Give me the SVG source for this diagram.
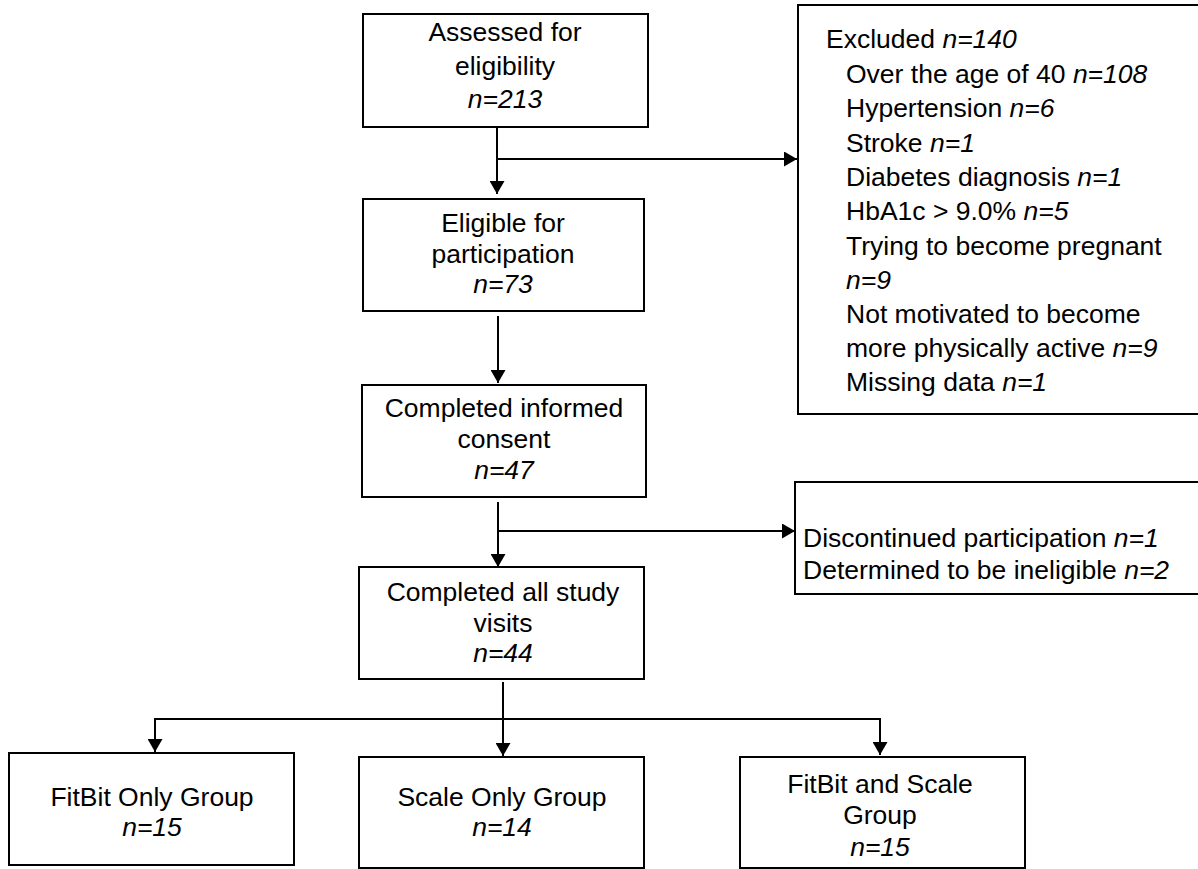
<svg xmlns="http://www.w3.org/2000/svg" width="1198" height="869" viewBox="0 0 1198 869">
<defs>
<style>
.box{fill:#fff;stroke:#000;stroke-width:2}
.t{font-family:"Liberation Sans",Arial,sans-serif;font-size:26.5px;fill:#000}
.c{text-anchor:middle}
.n{font-style:italic}
.ln{fill:none;stroke:#000;stroke-width:2}
</style>
<marker id="a" viewBox="0 0 13 15" refX="13" refY="7.5" markerWidth="13" markerHeight="15" markerUnits="userSpaceOnUse" orient="auto">
<path d="M0,0 L13,7.5 L0,15 Z" fill="#000"/>
</marker>
</defs>
<rect width="1198" height="869" fill="#fff"/>

<g id="connectors">
<path class="ln" d="M497,128 V194" marker-end="url(#a)"/>
<path class="ln" d="M497,159 H797" marker-end="url(#a)"/>
<path class="ln" d="M498,316 V383" marker-end="url(#a)"/>
<path class="ln" d="M498,502 V567" marker-end="url(#a)"/>
<path class="ln" d="M498,531 H795" marker-end="url(#a)"/>
<path class="ln" d="M503,682 V756" marker-end="url(#a)"/>
<path class="ln" d="M155,752 V719 H880 V755" marker-end="url(#a)"/>
<path class="ln" d="M155,719 V752" marker-end="url(#a)"/>
</g>

<g id="assessed">
<rect class="box" x="363" y="14" width="285" height="113"/>
<text class="t c" x="505" y="41">Assessed for</text>
<text class="t c" x="505" y="75">eligibility</text>
<text class="t c n" x="505" y="108">n=213</text>
</g>

<g id="excluded">
<rect class="box" x="798" y="5" width="410" height="409"/>
<text class="t" x="826" y="48">Excluded <tspan class="n">n=140</tspan></text>
<text class="t" x="846" y="83">Over the age of 40 <tspan class="n">n=108</tspan></text>
<text class="t" x="846" y="117">Hypertension <tspan class="n">n=6</tspan></text>
<text class="t" x="846" y="152">Stroke <tspan class="n">n=1</tspan></text>
<text class="t" x="846" y="186">Diabetes diagnosis <tspan class="n">n=1</tspan></text>
<text class="t" x="846" y="220">HbA1c &gt; 9.0% <tspan class="n">n=5</tspan></text>
<text class="t" x="846" y="255">Trying to become pregnant</text>
<text class="t n" x="846" y="289">n=9</text>
<text class="t" x="846" y="323">Not motivated to become</text>
<text class="t" x="846" y="357">more physically active <tspan class="n">n=9</tspan></text>
<text class="t" x="846" y="391">Missing data <tspan class="n">n=1</tspan></text>
</g>

<g id="eligible">
<rect class="box" x="363" y="199" width="281" height="112"/>
<text class="t c" x="503" y="232">Eligible for</text>
<text class="t c" x="503" y="263">participation</text>
<text class="t c n" x="503" y="293">n=73</text>
</g>

<g id="consent">
<rect class="box" x="362" y="385" width="284" height="112"/>
<text class="t c" x="504" y="417">Completed informed</text>
<text class="t c" x="504" y="448">consent</text>
<text class="t c n" x="504" y="479">n=47</text>
</g>

<g id="discontinued">
<rect class="box" x="795" y="482" width="410" height="112"/>
<text class="t" x="803" y="547">Discontinued participation <tspan class="n">n=1</tspan></text>
<text class="t" x="803" y="579">Determined to be ineligible <tspan class="n">n=2</tspan></text>
</g>

<g id="completed">
<rect class="box" x="359" y="567" width="285" height="112"/>
<text class="t c" x="503" y="601">Completed all study</text>
<text class="t c" x="503" y="632">visits</text>
<text class="t c n" x="503" y="662">n=44</text>
</g>

<g id="fitbit">
<rect class="box" x="9" y="753" width="285" height="112"/>
<text class="t c" x="152" y="806">FitBit Only Group</text>
<text class="t c n" x="152" y="836">n=15</text>
</g>

<g id="scale">
<rect class="box" x="359" y="757" width="285" height="111"/>
<text class="t c" x="502" y="806">Scale Only Group</text>
<text class="t c n" x="502" y="836">n=14</text>
</g>

<g id="both">
<rect class="box" x="740" y="757" width="285" height="111"/>
<text class="t c" x="880" y="793">FitBit and Scale</text>
<text class="t c" x="880" y="824">Group</text>
<text class="t c n" x="880" y="856">n=15</text>
</g>
</svg>
